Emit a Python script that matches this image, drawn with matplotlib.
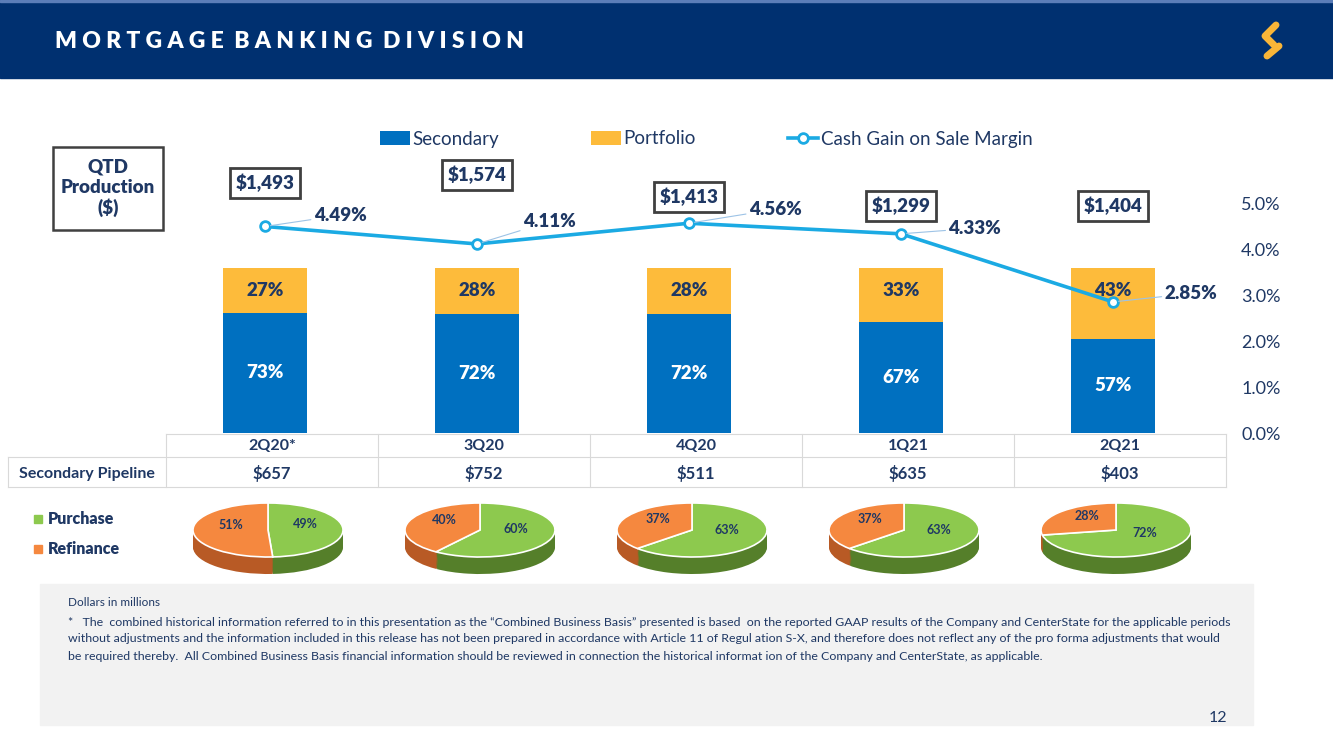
import matplotlib
matplotlib.use("Agg")
import matplotlib.pyplot as plt
from matplotlib.patches import Rectangle
from matplotlib.ticker import FuncFormatter
import numpy as np

plt.rcParams['font.family'] = ['Lato', 'DejaVu Sans']

# ---- data ----
quarters = ["2Q20*", "3Q20", "4Q20", "1Q21", "2Q21"]
secondary = [73, 72, 72, 67, 57]
portfolio = [27, 28, 28, 33, 43]
gain_margin = [4.49, 4.11, 4.56, 4.33, 2.85]
production = ["$1,493", "$1,574", "$1,413", "$1,299", "$1,404"]
pipeline = ["$657", "$752", "$511", "$635", "$403"]
purchase = [49, 60, 63, 63, 72]
refinance = [51, 40, 37, 37, 28]

# label placement (pixels on the 1333x750 page)
prod_box_y = [183, 175, 197, 206, 206]
margin_lbl_off = [(54, 8), (52, 16), (62, 10), (53, 4), (56, 6)]

NAVY = "#1F3864"
BLUE = "#0070C0"
GOLD = "#FDBB3B"
LINE = "#1BAAE3"
GREEN = "#8DC94E"
GREEN_D = "#557F2A"
ORANGE = "#F5883F"
ORANGE_D = "#B85A25"

W, H = 1333, 750
fig = plt.figure(figsize=(W / 100, H / 100), dpi=100)


def fbox(x0, y0, x1, y1):
    return [x0 / W, 1 - y1 / H, (x1 - x0) / W, (y1 - y0) / H]


# page layer for decoration, in pixel coords
page = fig.add_axes([0, 0, 1, 1])
page.set_xlim(0, W)
page.set_ylim(H, 0)
page.axis("off")

page.add_patch(Rectangle((0, 0), W, 78, color="#003070", zorder=0))
page.add_patch(Rectangle((0, 0), W, 2, color="#5B7DB8", zorder=1))
page.text(55, 41, "  ".join(" ".join(w) for w in "MORTGAGE BANKING DIVISION".split()),
          color="white", fontsize=16.5, fontweight="heavy", va="center", ha="left")
# logo
page.plot([1276, 1265, 1274], [25, 36, 45], color="#F9B538", lw=5, solid_capstyle="round",
          solid_joinstyle="round")
page.plot([1279, 1267], [46, 56], color="#F9B538", lw=5, solid_capstyle="round")

# QTD box
page.add_patch(Rectangle((53, 147), 110, 83, fill=False, ec="#404040", lw=1.8))
page.text(108, 188, "QTD\nProduction\n($)", ha="center", va="center", fontsize=13.5,
          fontweight="heavy", color=NAVY, linespacing=1.2)

# ---- bars + line ----
ax = fig.add_axes(fbox(159, 157, 1219, 433))
x = np.arange(len(quarters))
b1 = ax.bar(x, secondary, width=0.4, color=BLUE, label="Secondary")
b2 = ax.bar(x, portfolio, width=0.4, bottom=secondary, color=GOLD, label="Portfolio")
ax.set_xlim(-0.5, 4.5)
ax.set_ylim(0, 100 * 276 / 165)
ax.axis("off")
for i in range(len(quarters)):
    ax.text(x[i], secondary[i] / 2, f"{secondary[i]}%", ha="center", va="center",
            color="white", fontsize=13.5, fontweight="heavy")
    ax.annotate(f"{portfolio[i]}%", xy=(x[i], secondary[i] + portfolio[i]),
                xytext=(0, -16), textcoords="offset points", ha="center", va="center",
                color=NAVY, fontsize=13.5, fontweight="heavy")

ax2 = ax.twinx()
ln, = ax2.plot(x, gain_margin, color=LINE, lw=2.6, marker="o", markersize=7,
               markerfacecolor="white", markeredgecolor=LINE, markeredgewidth=2,
               label="Cash Gain on Sale Margin")
ax2.set_ylim(0, 6)
ax2.set_yticks(np.arange(0, 5.1, 1))
ax2.yaxis.set_major_formatter(FuncFormatter(lambda v, p: f"{v:.1f}%"))
ax2.tick_params(axis="y", length=0, pad=16, labelsize=13, labelcolor=NAVY)
for s in ax2.spines.values():
    s.set_visible(False)
ax2.set_xticks([])
for i, v in enumerate(gain_margin):
    dx, dy = margin_lbl_off[i]
    ax2.annotate(f"{v:.2f}%", xy=(x[i], v), xytext=(dx, dy), textcoords="offset points",
                 ha="center", va="center", fontsize=13.5, fontweight="heavy", color=NAVY,
                 arrowprops=dict(arrowstyle="-", color="#9DC3E6", lw=0.8,
                                 shrinkA=0, shrinkB=4))

fig.legend(handles=[b1, b2, ln], loc="center", bbox_to_anchor=(706 / W, 1 - 139 / H),
           ncol=3, frameon=False, fontsize=13.5, columnspacing=4.9, handlelength=1.6,
           handletextpad=0.15, labelcolor=NAVY)

# production boxes
for i, lab in enumerate(production):
    px = ax.transData.transform((x[i], 0))[0]
    page.text(px, prod_box_y[i], lab, ha="center", va="center", fontsize=13.5,
              fontweight="heavy", color=NAVY,
              bbox=dict(boxstyle="square,pad=0.3", fc="white", ec="#404040", lw=2))

# ---- table ----
cols = [166 + 212 * i for i in range(6)]
grid = "#D9D9D9"
page.plot([cols[0], cols[-1]], [434, 434], color=grid, lw=0.8)
page.plot([8, cols[-1]], [457, 457], color=grid, lw=0.8)
page.plot([8, cols[-1]], [487, 487], color=grid, lw=0.8)
page.plot([8, 8], [457, 487], color=grid, lw=0.8)
for c in cols:
    page.plot([c, c], [434, 487], color=grid, lw=0.8)
page.text(87, 474, "Secondary Pipeline", ha="center", va="center", fontsize=11.5,
          fontweight="bold", color=NAVY)
for i in range(len(quarters)):
    cx = (cols[i] + cols[i + 1]) / 2
    page.text(cx, 446, quarters[i], ha="center", va="center", fontsize=11.5,
              fontweight="bold", color=NAVY)
    page.text(cx, 473, pipeline[i], ha="center", va="center", fontsize=12,
              fontweight="bold", color=NAVY)

# ---- pies (tilted, with depth) ----
ry = 27.0
for i in range(len(quarters)):
    cx = 268 + 212 * i
    pa = fig.add_axes(fbox(cx - 80, 495, cx + 80, 582))
    vals = [purchase[i], refinance[i]]
    depth = 17 / ry
    for t in np.linspace(depth, 0.02, 16):
        pa.pie(vals, colors=[GREEN_D, ORANGE_D], startangle=90, counterclock=False,
               center=(0, -t), radius=1, wedgeprops=dict(lw=0))
    wedges, texts, autotexts = pa.pie(
        vals, colors=[GREEN, ORANGE], startangle=90, counterclock=False,
        autopct="%d%%", pctdistance=0.5, radius=1,
        wedgeprops=dict(ec="white", lw=1.2),
        textprops=dict(fontsize=9, fontweight="bold", color=NAVY))
    for t in autotexts:
        tx, ty = t.get_position()
        t.set_position((tx, ty + 0.2))
    pa.set_aspect("auto")
    pa.set_xlim(-80 / 75, 80 / 75)
    pa.set_ylim(-(582 - 530) / ry, (530 - 495) / ry)
    pa.axis("off")

# pie legend
for yy, col, lab in [(519, GREEN, "Purchase"), (549, ORANGE, "Refinance")]:
    page.add_patch(Rectangle((34, yy - 4), 8, 8, color=col))
    page.text(48, yy, lab, ha="left", va="center", fontsize=11.5, fontweight="heavy",
              color=NAVY)

# ---- footnote ----
page.add_patch(Rectangle((40, 584), 1213, 141, color="#F2F2F2", zorder=0))
foot = ["*   The  combined historical information referred to in this presentation as the "
        "\u201cCombined Business Basis\u201d presented is based  on the reported GAAP results of "
        "the Company and CenterState for the applicable periods",
        "without adjustments and the information included in this release has not been "
        "prepared in accordance with Article 11 of Regul ation S-X, and therefore does not "
        "reflect any of the pro forma adjustments that would",
        "be required thereby.  All Combined Business Basis financial information should be "
        "reviewed in connection the historical informat ion of the Company and CenterState, "
        "as applicable."]
page.text(68, 603, "Dollars in millions", fontsize=8.5, color=NAVY, va="center")
for k, line in enumerate(foot):
    page.text(68, 622 + 17 * k, line, fontsize=8.9, color=NAVY, va="center")
page.text(1218, 718, "12", fontsize=11.5, color=NAVY, ha="center", va="center")

fig.savefig("out.png", dpi=100)
